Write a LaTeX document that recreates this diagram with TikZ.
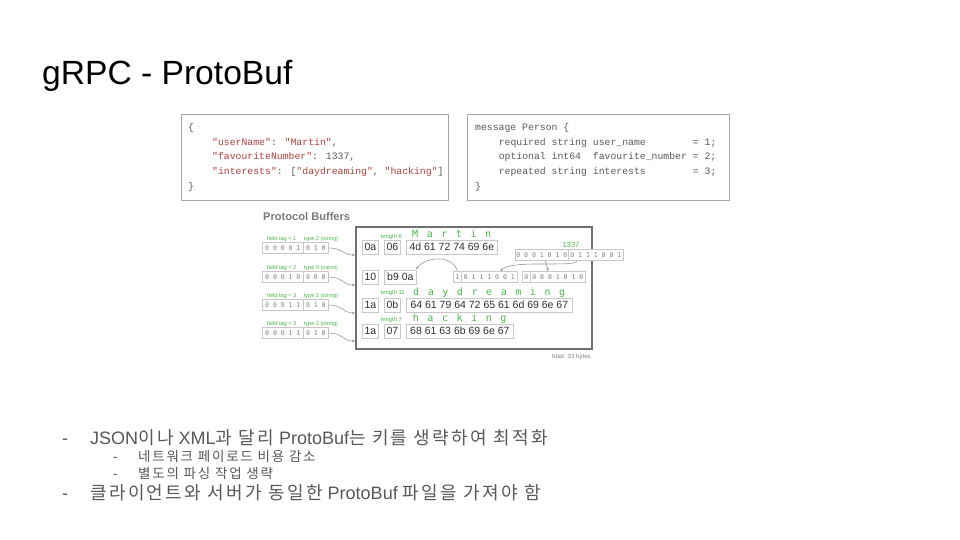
\documentclass[tikz,border=0pt]{standalone}
\usepackage{fontspec}
\setmainfont{Liberation Sans}
\newfontfamily\kr[LetterSpace=13]{Noto Sans CJK KR}
\newfontfamily\monof{DejaVu Sans Mono}
\newfontfamily\codef{Liberation Mono}
\usetikzlibrary{arrows.meta,calc}
\definecolor{jsonred}{HTML}{B0413E}
\definecolor{codegray}{HTML}{5A5A5A}
\definecolor{boxgray}{HTML}{A8A8A8}
\definecolor{lightbox}{HTML}{C8C8C8}
\definecolor{pbgreen}{HTML}{4DB84D}
\definecolor{bulletgray}{HTML}{595959}
\definecolor{arrowgray}{HTML}{9A9A9A}
\definecolor{framegray}{HTML}{707070}
\definecolor{digitgray}{HTML}{808080}
\definecolor{bytetext}{HTML}{303030}
\definecolor{headgray}{HTML}{7A7A7A}
\newcommand\jr[1]{\textcolor{jsonred}{#1}}
\newcommand\spreadl[2]{\foreach \c in {#2}{\makebox[#1pt]{\c}}}
\newcommand\kor[1]{{\kr #1}}
\tikzset{
  codebox/.style={draw=boxgray, line width=1.4pt, fill=white, inner sep=0pt, anchor=north west},
  codeline/.style={anchor=base west, inner sep=0pt, font=\codef\fontsize{9.8}{11}\selectfont, text=codegray},
  fieldlbl/.style={anchor=base west, inner sep=0pt, font=\fontsize{5.6}{6}\selectfont, text=pbgreen},
  binbox/.style={draw=lightbox, line width=0.6pt, fill=white, minimum height=11, inner sep=0pt, anchor=west, font=\monof\fontsize{6.5}{7}\selectfont, text=digitgray},
  bytebox/.style={draw=lightbox, line width=0.7pt, fill=white, minimum height=14, inner sep=0pt, anchor=west, font=\fontsize{10.5}{12}\selectfont, text=bytetext},
  glyphs/.style={anchor=base west, inner sep=0pt, font=\monof\fontsize{10}{11}\selectfont, text=pbgreen},
  lenlbl/.style={anchor=base west, inner sep=0pt, font=\fontsize{5.8}{6}\selectfont, text=pbgreen},
  conn/.style={draw=arrowgray, line width=0.6pt, -{Stealth[length=3.2pt,width=2.8pt]}},
  bulletmain/.style={anchor=base west, inner sep=0pt, text=bulletgray, font=\fontsize{18}{20}\selectfont},
  bulletsub/.style={anchor=base west, inner sep=0pt, text=bulletgray, font=\fontsize{13.5}{15}\selectfont},
}
\begin{document}
\begin{tikzpicture}[x=1pt,y=-1pt]
\fill[white] (0,0) rectangle (960,540);
\useasboundingbox (0,0) rectangle (960,540);

% title
\node[anchor=base west, inner sep=0pt, font=\fontsize{33.6}{38}\selectfont] (title) at (42,85) {gRPC - ProtoBuf};

% JSON box
\node[codebox, minimum width=267, minimum height=86] (json) at (181,114) {};
\node[codeline] (j1) at (188,130.5) {\{};
\node[codeline] (j2) at (212,145.2) {\jr{"userName"}: \jr{"Martin"},};
\node[codeline] (j3) at (212,159.9) {\jr{"favouriteNumber"}: 1337,};
\node[codeline] (j4) at (212,174.6) {\jr{"interests"}: [\jr{"daydreaming"}, \jr{"hacking"}]};
\node[codeline] (j5) at (188,189.3) {\}};

% proto schema box
\node[codebox, minimum width=262, minimum height=86] (proto) at (467,114) {};
\node[codeline] (p1) at (475,130.5) {message Person \{};
\node[codeline] (p2) at (498.6,145.2) {required string user\_name~~~~~~~~=~1;};
\node[codeline] (p3) at (498.6,159.9) {optional int64~~favourite\_number~=~2;};
\node[codeline] (p4) at (498.6,174.6) {repeated string interests~~~~~~~~=~3;};
\node[codeline] (p5) at (475,189.3) {\}};

% Protocol Buffers diagram
\node[anchor=base west, inner sep=0pt, text=headgray, font=\bfseries\fontsize{11.1}{13}\selectfont] (pbhead) at (263,220) {Protocol Buffers};

\node[draw=framegray, line width=1.6pt, minimum width=236, minimum height=122, inner sep=0pt, anchor=north west] (frame) at (355,226) {};

% field tag labels and boxes
\node[fieldlbl] (l1) at (267,240) {field tag = 1\hspace{7.5pt}type 2 (string)};
\node[fieldlbl] (l2) at (267,269) {field tag = 2\hspace{7.5pt}type 0 (varint)};
\node[fieldlbl] (l3) at (267,297) {field tag = 3\hspace{7.5pt}type 2 (string)};
\node[fieldlbl] (l4) at (267,325) {field tag = 3\hspace{7.5pt}type 2 (string)};

\node[binbox, minimum width=41] (f1a) at (262,248) {0 0 0 0 1};
\node[binbox, minimum width=25] (f1b) at (303,248) {0 1 0};
\node[binbox, minimum width=41] (f2a) at (262,277) {0 0 0 1 0};
\node[binbox, minimum width=25] (f2b) at (303,277) {0 0 0};
\node[binbox, minimum width=41] (f3a) at (262,305) {0 0 0 1 1};
\node[binbox, minimum width=25] (f3b) at (303,305) {0 1 0};
\node[binbox, minimum width=41] (f4a) at (262,333) {0 0 0 1 1};
\node[binbox, minimum width=25] (f4b) at (303,333) {0 1 0};

\coordinate (in1) at (355,255);
\coordinate (in2) at (355,285);
\coordinate (in3) at (355,313);
\coordinate (in4) at (355,341);
\draw[conn] (f1b.east) .. controls +(14,0) and +(-12,0) .. (in1);
\draw[conn] (f2b.east) .. controls +(14,0) and +(-12,0) .. (in2);
\draw[conn] (f3b.east) .. controls +(14,0) and +(-12,0) .. (in3);
\draw[conn] (f4b.east) .. controls +(14,0) and +(-12,0) .. (in4);

% row 1
\node[lenlbl] (len1) at (381,238) {length 6};
\node[glyphs] (g1) at (407.7,237.5) {\spreadl{14.6}{M,a,r,t,i,n}};
\node[bytebox, minimum width=16] (r1a) at (362,247) {0a};
\node[bytebox, minimum width=16] (r1b) at (384,247) {06};
\node[bytebox, minimum width=91] (r1c) at (406,247) {4d 61 72 74 69 6e};

% row 2
\node[bytebox, minimum width=16] (r2a) at (362,277) {10};
\node[bytebox, minimum width=32] (r2b) at (384,277) {b9 0a};
\node[binbox, minimum width=8] (b1l) at (453,277) {1};
\node[binbox, minimum width=56] (b1r) at (461,277) {0 1 1 1 0 0 1};
\node[binbox, minimum width=8] (b2l) at (522,277) {0};
\node[binbox, minimum width=55] (b2r) at (530,277) {0 0 0 1 0 1 0};

\node[anchor=center, inner sep=0pt, text=pbgreen, font=\fontsize{7.6}{8}\selectfont] (n1337) at (571,245) {1337};
\node[binbox, minimum width=53] (v1) at (515,255) {0 0 0 1 0 1 0};
\node[binbox, minimum width=55] (v2) at (568,255) {0 1 1 1 0 0 1};

\draw[conn] ([xshift=9pt]v2.south west) .. controls (575,268) and (512,259) .. ([xshift=11pt]b1r.north);
\draw[conn] ([xshift=4pt]v1.south) .. controls (545,266) and (547.5,265) .. ([xshift=-10pt]b2r.north);
\coordinate (b9end) at (416,269);
\draw[conn] (b1l.north) .. controls (454,256) and (428,255) .. (b9end);

% row 3
\node[lenlbl] (len3) at (381,294.5) {length 11};
\node[glyphs] (g3) at (408.7,295) {\spreadl{14.6}{d,a,y,d,r,e,a,m,i,n,g}};
\node[bytebox, minimum width=16] (r3a) at (362,305) {1a};
\node[bytebox, minimum width=16] (r3b) at (384,305) {0b};
\node[bytebox, minimum width=166] (r3c) at (406,305) {64 61 79 64 72 65 61 6d 69 6e 67};

% row 4
\node[lenlbl] (len4) at (381,321) {length 7};
\node[glyphs] (g4) at (408.4,321.5) {\spreadl{14.6}{h,a,c,k,i,n,g}};
\node[bytebox, minimum width=16] (r4a) at (362,331) {1a};
\node[bytebox, minimum width=16] (r4b) at (384,331) {07};
\node[bytebox, minimum width=107] (r4c) at (406,331) {68 61 63 6b 69 6e 67};

\node[anchor=base west, inner sep=0pt, text=digitgray, font=\fontsize{6.1}{7}\selectfont] (total) at (552,358) {total: 33 bytes};

% bullets
\node[bulletmain] (d1) at (62,444) {-};
\node[bulletmain] (t1) at (90,444) {JSON\kor{이나} XML\kor{과 달리} ProtoBuf\kor{는 키를 생략하여 최적화}};
\node[bulletsub] (d2) at (113,461) {-};
\node[bulletsub] (t2) at (138,461) {\kr 네트워크 페이로드 비용 감소};
\node[bulletsub] (d3) at (113,478) {-};
\node[bulletsub] (t3) at (138,478) {\kr 별도의 파싱 작업 생략};
\node[bulletmain] (d4) at (62,499) {-};
\node[bulletmain] (t4) at (90,499) {\kor{클라이언트와 서버가 동일한} ProtoBuf \kor{파일을 가져야 함}};
\end{tikzpicture}
\end{document}
